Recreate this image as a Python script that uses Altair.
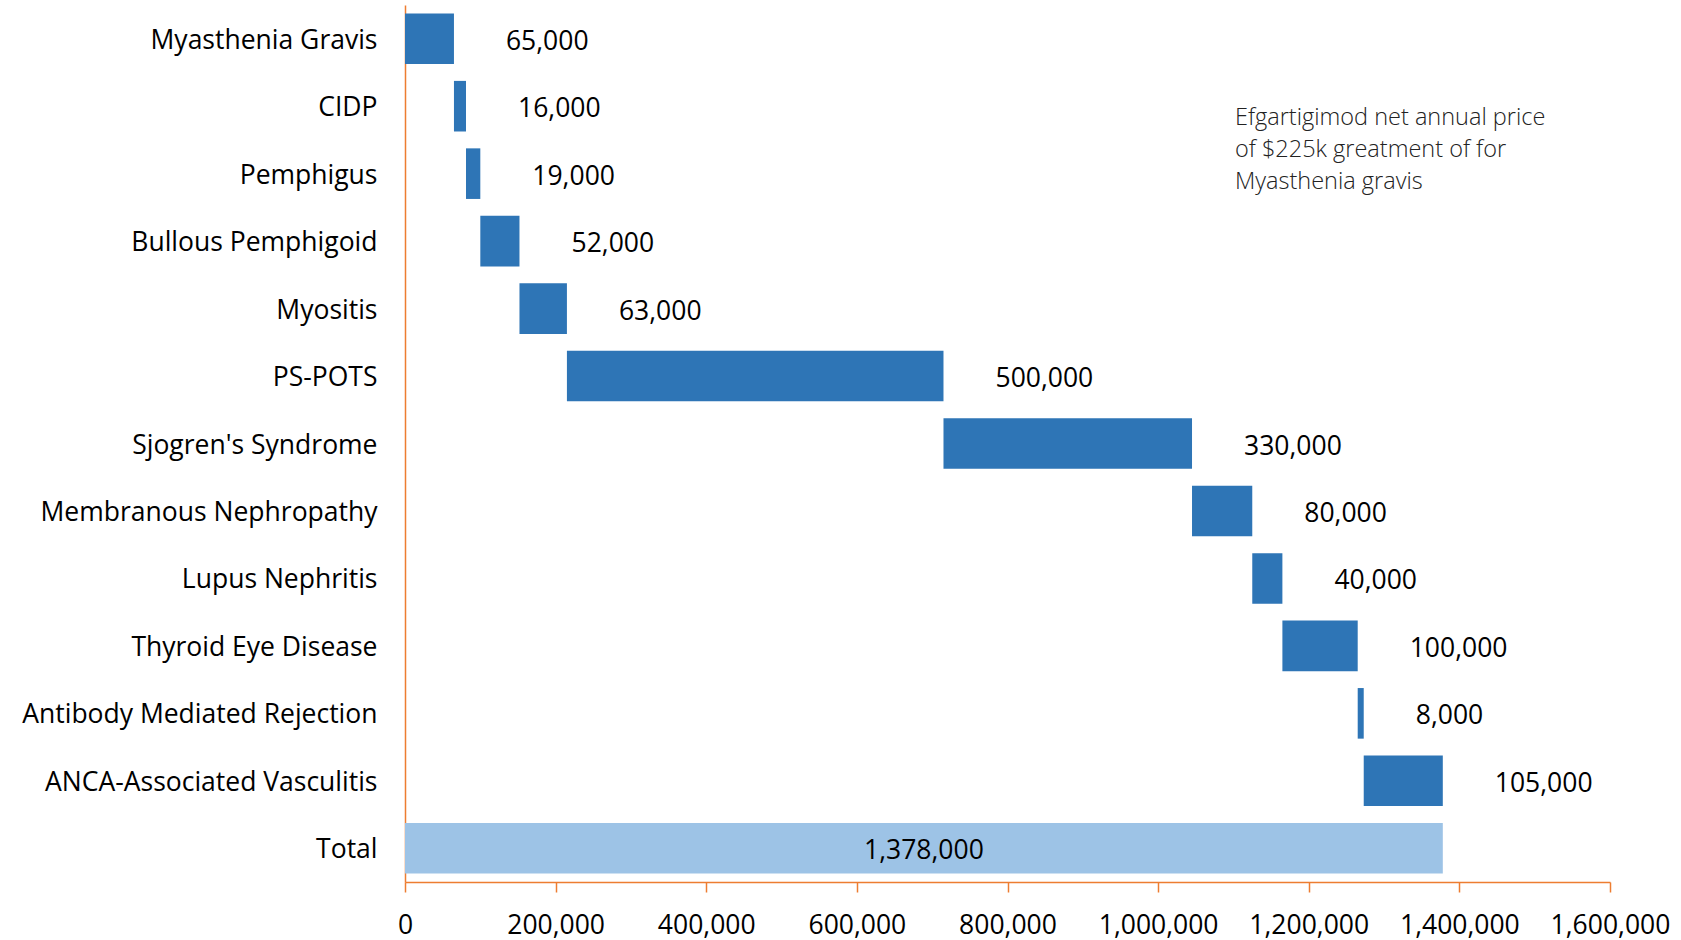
import altair as alt
import pandas as pd

categories = ["Myasthenia Gravis", "CIDP", "Pemphigus", "Bullous Pemphigoid", "Myositis",
              "PS-POTS", "Sjogren's Syndrome", "Membranous Nephropathy", "Lupus Nephritis",
              "Thyroid Eye Disease", "Antibody Mediated Rejection", "ANCA-Associated Vasculitis"]
values = [65000, 16000, 19000, 52000, 63000, 500000, 330000, 80000, 40000, 100000, 8000, 105000]
total_label = "Total"
x_ticks = [0, 200000, 400000, 600000, 800000, 1000000, 1200000, 1400000, 1600000]
note_lines = ["Efgartigimod net annual price", "of $225k greatment of for", "Myasthenia gravis"]

rows = []
running = 0
for c, v in zip(categories, values):
    rows.append({"cat": c, "start": running, "end": running + v, "val": v, "kind": "step"})
    running += v
rows.append({"cat": total_label, "start": 0, "end": running, "val": running, "kind": "total"})
df = pd.DataFrame(rows)
df["mid"] = (df["start"] + df["end"]) / 2
order = categories + [total_label]

FONT = "Open Sans"
FS = 26.5
ORANGE = "#ED7D31"

y_axis = alt.Axis(ticks=False, labelPadding=28, labelFontSize=FS, labelFont=FONT,
                  labelFontWeight=500, labelOffset=2,
                  labelColor="#000000", domainColor=ORANGE, domainWidth=1.5,
                  labelLimit=500)
y_scale = alt.Scale(paddingInner=0.25, paddingOuter=0.125)
x_scale = alt.Scale(domain=[0, 1600000], nice=False)
x_axis = alt.Axis(values=x_ticks, format=",", labelExpr="format(datum.value, ',')",
                  grid=False, tickColor=ORANGE, tickSize=10,
                  tickWidth=1.5, domainColor=ORANGE, domainWidth=1.5, labelFontSize=FS,
                  labelFont=FONT, labelFontWeight=500, labelColor="#000000", labelPadding=20,
                  labelOverlap=False, labelFlush=False)

def yenc():
    return alt.Y("cat:N", sort=order, title=None, scale=y_scale, axis=y_axis)

base = alt.Chart(df)
bars = base.mark_bar().encode(
    x=alt.X("start:Q", scale=x_scale, axis=x_axis, title=None),
    x2="end:Q",
    y=yenc(),
    color=alt.Color("kind:N", scale=alt.Scale(domain=["step", "total"],
                                              range=["#2E75B6", "#9DC3E6"]), legend=None),
)
step_labels = base.transform_filter(alt.datum.kind == "step").mark_text(
    align="left", baseline="middle", dx=52, dy=3, fontSize=FS, font=FONT, fontWeight=500,
    color="#000000"
).encode(x=alt.X("end:Q", scale=x_scale, axis=x_axis, title=None), y=yenc(),
         text=alt.Text("val:Q", format=","))
total_text = base.transform_filter(alt.datum.kind == "total").mark_text(
    align="center", baseline="middle", dy=3, fontSize=FS, font=FONT, fontWeight=500,
    color="#000000"
).encode(x=alt.X("mid:Q", scale=x_scale, axis=x_axis, title=None), y=yenc(),
         text=alt.Text("val:Q", format=","))
note = alt.Chart(pd.DataFrame({"t": [0]})).mark_text(
    align="left", baseline="top", fontSize=23.5, font=FONT, fontWeight=300,
    color="#222222", lineHeight=32, text=note_lines
).encode(x=alt.value(830), y=alt.value(101))

chart = alt.layer(bars, step_labels, total_text, note).properties(
    width=1205, height=877,
    autosize=alt.AutoSizeParams(type="none"),
    padding={"left": 405, "top": 5, "right": 71, "bottom": 58},
).configure(background="white").configure_view(stroke=None)

chart.save("out.html", embed_options={"renderer": "svg", "actions": False})
